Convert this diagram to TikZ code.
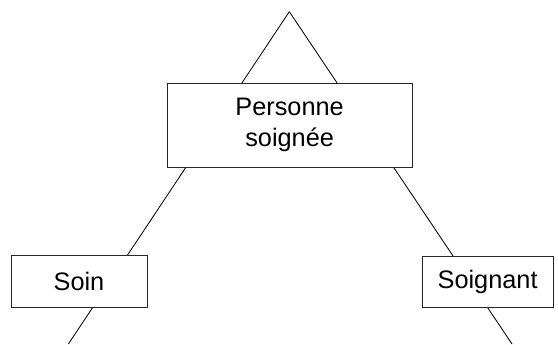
\documentclass[tikz,border=0pt]{standalone}
\usepackage{fontspec}
\setmainfont{Liberation Sans}
\usepackage{tikz}
\usetikzlibrary{positioning, calc}

\tikzset{
  rolebox/.style={draw=black!85, fill=white, line width=0.7pt, inner sep=2pt,
    font=\fontsize{18}{22}\selectfont, align=center},
  sideline/.style={draw=black, line width=0.6pt}
}

\begin{document}
\begin{tikzpicture}
  \useasboundingbox (0,0) rectangle (13.95,8.6);

  % Triangle
  \coordinate (apex) at (7.233, 8.308);
  \coordinate (footL) at (1.71, 0);
  \coordinate (footR) at (12.80, 0);
  \draw[sideline] (apex) -- (footL);
  \draw[sideline] (apex) -- (footR);

  % Poles
  \node[rolebox, minimum width=6.125cm, minimum height=2.1cm] (patient) at (7.24, 5.475) {Personne\\soignée};
  \node[rolebox, minimum width=3.4cm, minimum height=1.3cm] (care) at (1.975, 1.575) {Soin};
  \node[rolebox, minimum width=3.275cm, minimum height=1.275cm] (carer) at (12.19, 1.54) {Soignant};
\end{tikzpicture}
\end{document}
